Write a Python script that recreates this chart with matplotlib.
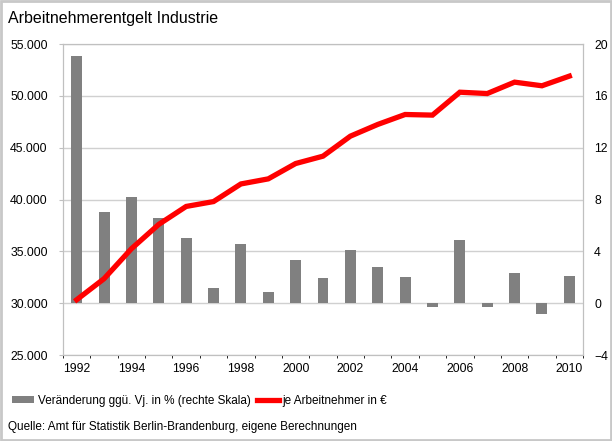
import numpy as np
import matplotlib.pyplot as plt
from matplotlib.patches import Rectangle
from matplotlib.ticker import FuncFormatter

plt.rcParams['font.family'] = ['Liberation Sans', 'DejaVu Sans']

years = np.arange(1992, 2011)
# Veränderung ggü. Vorjahr in % (rechte Skala)
veraenderung = [19.1, 7.0, 8.2, 6.6, 5.0, 1.2, 4.6, 0.9, 3.3, 1.95,
                4.1, 2.8, 2.0, -0.3, 4.9, -0.3, 2.3, -0.85, 2.1]
# Arbeitnehmerentgelt je Arbeitnehmer in Euro
entgelt = [30330, 32360, 35250, 37600, 39330, 39800, 41500, 41990, 43470, 44180,
           46110, 47240, 48200, 48140, 50350, 50220, 51320, 50970, 51900]

fig = plt.figure(figsize=(6.12, 4.41), dpi=100)
ax = fig.add_axes([63 / 612, 86 / 441, 520 / 612, 311 / 441])
ax2 = ax.twinx()

grid_col = '#d0d0d0'

# Balken auf der rechten Achse, Gitter ebenfalls dort (liegt unter der Linie)
bars = ax2.bar(years, veraenderung, width=0.4, color='#808080', zorder=2,
               label='Veränderung ggü. Vj. in % (rechte Skala)')
ax2.set_ylim(-4, 20)
ax2.set_yticks(np.arange(-4, 21, 4))
ax2.set_xticks(np.arange(1991.5, 2011, 1), minor=True)
ax2.grid(True, which='major', axis='y', color=grid_col, lw=1)
ax2.grid(True, which='minor', axis='x', color=grid_col, lw=1)
ax2.set_axisbelow(True)

line, = ax.plot(years, entgelt, color='#ff0000', lw=3.8, solid_joinstyle='miter',
                label='je Arbeitnehmer in €')
ax.set_ylim(25000, 55000)
ax.set_yticks(np.arange(25000, 55001, 5000))
ax.yaxis.set_major_formatter(FuncFormatter(lambda v, p: f'{v:,.0f}'.replace(',', '.')))
ax.set_xlim(1991.5, 2010.5)
ax.set_xticks(np.arange(1992, 2011, 2))

ax.set_zorder(ax2.get_zorder() + 1)
ax.patch.set_visible(False)

for a in (ax, ax2):
    for s in a.spines.values():
        s.set_color('#c0c0c0')
    a.tick_params(labelsize=8.8, colors='black')
ax.tick_params(axis='y', length=3, color='#c0c0c0', pad=8)
ax.tick_params(axis='x', length=0, pad=6)
ax2.tick_params(axis='y', length=0, pad=8)
ax2.tick_params(axis='x', which='both', length=0)

fig.text(8 / 612, 1 - 19 / 441, 'Arbeitnehmerentgelt Industrie', fontsize=11.5,
         va='center', ha='left')

fig.legend(handles=[bars, line], loc='center left',
           bbox_to_anchor=(6 / 612, 1 - 401 / 441), ncol=2, frameon=False,
           fontsize=8.5, handlelength=1.9, handleheight=0.5,
           handletextpad=0.3, columnspacing=0.5, borderpad=0)

fig.text(8 / 612, 1 - 427 / 441,
         'Quelle: Amt für Statistik Berlin-Brandenburg, eigene Berechnungen',
         fontsize=8.5, va='center', ha='left')

# grauer Rahmen um die Grafik
fig.patches.append(Rectangle((0.002, 0.002), 0.996, 0.996, transform=fig.transFigure,
                             fill=False, edgecolor='#c8c8c8', lw=2))

fig.savefig('out.png', dpi=100)
